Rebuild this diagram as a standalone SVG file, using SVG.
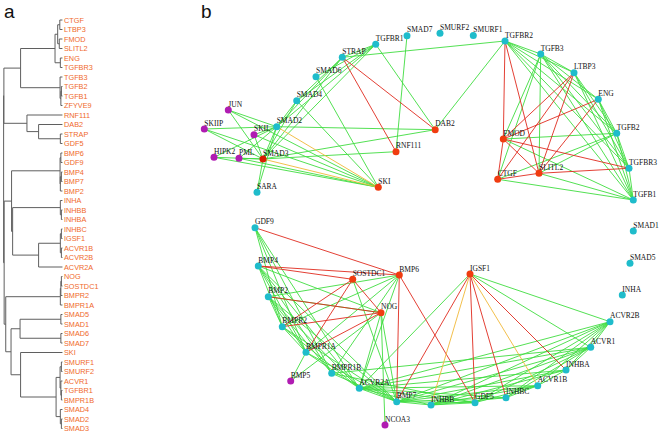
<svg xmlns="http://www.w3.org/2000/svg" width="661" height="435" viewBox="0 0 661 435">
<style>
.tree{fill:none;stroke:#5f5f5f;stroke-width:1}
.dl{font-family:"Liberation Sans",Arial,sans-serif;font-size:7.3px;fill:#f06a2c}
.pl{font-family:"Liberation Sans",Arial,sans-serif;font-size:19px;fill:#111}
.lb{font-family:"Liberation Serif","Times New Roman",serif;font-size:7.5px;fill:#111}
.g line{stroke:#3fdc3f;stroke-width:0.9}
.r line{stroke:#e02a1e;stroke-width:0.9}
.y line{stroke:#f0b838;stroke-width:0.9}
.c{fill:#1fbccb}
.o{fill:#f03c10}
.d{fill:#d81c00}
.m{fill:#b01cb2}
</style>
<rect width="661" height="435" fill="#fff"/>
<text class="pl" x="4" y="18">a</text>
<text class="pl" x="201" y="18">b</text>

<g id="dendrogram">
<g transform="translate(1.5,0) scale(0.53,1)">
<path class="tree" vector-effect="non-scaling-stroke" d="M115,20H110V29.5H115 M115,39H109V48.5H115 M110,24.75H106V43.75H109 M115,58H111V67.5H115 M106,34.25H101V62.75H111 M115,86.5H113V96H115 M113,91.25H112V105.5H115 M115,77H110.5V98.4H112 M101,48.5H36V87.7H110.5 M115,134H111V143.5H115 M115,124.5H70V138.75H111 M115,115H48V131.6H70 M36,68.1H4.5V123.3H48 M115,153H112V162.5H115 M115,172H113V181.5H115 M113,176.75H111V191H115 M112,157.75H110.5V183.9H111 M115,210H113V219.5H115 M115,200.5H111V214.75H113 M115,229H113V238.5H115 M115,248H113V257.5H115 M113,233.75H111V252.75H113 M111,243.25H70V267H115 M111,207.6H21V255.1H70 M110.5,170.8H19V231.4H21 M115,276.5H113V286H115 M113,281.25H112V295.5H115 M112,288.4H111V305H115 M115,314.5H112V324H115 M115,333.5H112V343H115 M112,319.25H35V338.25H112 M115,362H113V371.5H115 M115,390.5H113V400H115 M115,381H112V395.25H113 M113,366.75H110.5V388.1H112 M115,419H113V428.5H115 M115,409.5H111V423.75H113 M110.5,377.4H103V416.6H111 M115,352.5H36V397H103 M35,328.75H18V374.75H36 M111,296.7H8V351.75H18 M19,201.1H5V324.2H8 M4.5,95.7H4V262.7H5"/>
</g>
<g class="dl">
<text x="64" y="22.7">CTGF</text><text x="64" y="32.2">LTBP3</text><text x="64" y="41.7">FMOD</text><text x="64" y="51.2">SLITL2</text><text x="64" y="60.7">ENG</text><text x="64" y="70.2">TGFBR3</text><text x="64" y="79.7">TGFB3</text><text x="64" y="89.2">TGFB2</text><text x="64" y="98.7">TGFB1</text><text x="64" y="108.2">ZFYVE9</text><text x="64" y="117.7">RNF111</text><text x="64" y="127.2">DAB2</text><text x="64" y="136.7">STRAP</text><text x="64" y="146.2">GDF5</text><text x="64" y="155.7">BMP6</text><text x="64" y="165.2">GDF9</text><text x="64" y="174.7">BMP4</text><text x="64" y="184.2">BMP7</text><text x="64" y="193.7">BMP2</text><text x="64" y="203.2">INHA</text><text x="64" y="212.7">INHBB</text><text x="64" y="222.2">INHBA</text><text x="64" y="231.7">INHBC</text><text x="64" y="241.2">IGSF1</text><text x="64" y="250.7">ACVR1B</text><text x="64" y="260.2">ACVR2B</text><text x="64" y="269.7">ACVR2A</text><text x="64" y="279.2">NOG</text><text x="64" y="288.7">SOSTDC1</text><text x="64" y="298.2">BMPR2</text><text x="64" y="307.7">BMPR1A</text><text x="64" y="317.2">SMAD5</text><text x="64" y="326.7">SMAD1</text><text x="64" y="336.2">SMAD6</text><text x="64" y="345.7">SMAD7</text><text x="64" y="355.2">SKI</text><text x="64" y="364.7">SMURF1</text><text x="64" y="374.2">SMURF2</text><text x="64" y="383.7">ACVR1</text><text x="64" y="393.2">TGFBR1</text><text x="64" y="402.7">BMPR1B</text><text x="64" y="412.2">SMAD4</text><text x="64" y="421.7">SMAD2</text><text x="64" y="431.2">SMAD3</text>
</g>
</g>

<g id="connectors">
<g class="g">
<line x1="228.3" y1="110" x2="276.7" y2="126.7"/>
<line x1="228.3" y1="110" x2="263" y2="159"/>
<line x1="228.3" y1="110" x2="378.3" y2="187.3"/>
<line x1="204.3" y1="129" x2="276.7" y2="126.7"/>
<line x1="204.3" y1="129" x2="263" y2="159"/>
<line x1="204.3" y1="129" x2="378.3" y2="187.3"/>
<line x1="254" y1="134.7" x2="276.7" y2="126.7"/>
<line x1="254" y1="134.7" x2="263" y2="159"/>
<line x1="254" y1="134.7" x2="378.3" y2="187.3"/>
<line x1="214" y1="157.3" x2="263" y2="159"/>
<line x1="214" y1="157.3" x2="378.3" y2="187.3"/>
<line x1="214" y1="157.3" x2="276.7" y2="126.7"/>
<line x1="239" y1="158.3" x2="263" y2="159"/>
<line x1="239" y1="158.3" x2="378.3" y2="187.3"/>
<line x1="239" y1="158.3" x2="276.7" y2="126.7"/>
<line x1="276.7" y1="126.7" x2="263" y2="159"/>
<line x1="276.7" y1="126.7" x2="296.7" y2="100.7"/>
<line x1="263" y1="159" x2="296.7" y2="100.7"/>
<line x1="257" y1="192.3" x2="276.7" y2="126.7"/>
<line x1="257" y1="192.3" x2="263" y2="159"/>
<line x1="276.7" y1="126.7" x2="342.3" y2="57.3"/>
<line x1="263" y1="159" x2="342.3" y2="57.3"/>
<line x1="276.7" y1="126.7" x2="375.7" y2="44.3"/>
<line x1="263" y1="159" x2="375.7" y2="44.3"/>
<line x1="296.7" y1="100.7" x2="375.7" y2="44.3"/>
<line x1="296.7" y1="100.7" x2="342.3" y2="57.3"/>
<line x1="316" y1="76.7" x2="375.7" y2="44.3"/>
<line x1="342.3" y1="57.3" x2="375.7" y2="44.3"/>
<line x1="296.7" y1="100.7" x2="378.3" y2="187.3"/>
<line x1="316" y1="76.7" x2="378.3" y2="187.3"/>
<line x1="263" y1="159" x2="396" y2="151.7"/>
<line x1="276.7" y1="126.7" x2="435.2" y2="129.7"/>
<line x1="263" y1="159" x2="435.2" y2="129.7"/>
<line x1="375.7" y1="44.3" x2="435.2" y2="129.7"/>
<line x1="407" y1="35.7" x2="396" y2="151.7"/>
<line x1="342.3" y1="57.3" x2="505" y2="41"/>
<line x1="505" y1="41" x2="435.2" y2="129.7"/>
<line x1="505" y1="41" x2="540.7" y2="54"/>
<line x1="505" y1="41" x2="574" y2="72.7"/>
<line x1="505" y1="41" x2="598.3" y2="99.3"/>
<line x1="505" y1="41" x2="616.7" y2="133.3"/>
<line x1="505" y1="41" x2="629" y2="168.3"/>
<line x1="505" y1="41" x2="633.3" y2="200"/>
<line x1="540.7" y1="54" x2="574" y2="72.7"/>
<line x1="540.7" y1="54" x2="598.3" y2="99.3"/>
<line x1="540.7" y1="54" x2="616.7" y2="133.3"/>
<line x1="540.7" y1="54" x2="629" y2="168.3"/>
<line x1="540.7" y1="54" x2="633.3" y2="200"/>
<line x1="540.7" y1="54" x2="539" y2="173.3"/>
<line x1="540.7" y1="54" x2="503.3" y2="139"/>
<line x1="540.7" y1="54" x2="497.7" y2="179.3"/>
<line x1="574" y1="72.7" x2="616.7" y2="133.3"/>
<line x1="574" y1="72.7" x2="633.3" y2="200"/>
<line x1="574" y1="72.7" x2="629" y2="168.3"/>
<line x1="598.3" y1="99.3" x2="616.7" y2="133.3"/>
<line x1="598.3" y1="99.3" x2="633.3" y2="200"/>
<line x1="598.3" y1="99.3" x2="629" y2="168.3"/>
<line x1="616.7" y1="133.3" x2="629" y2="168.3"/>
<line x1="616.7" y1="133.3" x2="633.3" y2="200"/>
<line x1="616.7" y1="133.3" x2="503.3" y2="139"/>
<line x1="616.7" y1="133.3" x2="497.7" y2="179.3"/>
<line x1="616.7" y1="133.3" x2="539" y2="173.3"/>
<line x1="629" y1="168.3" x2="633.3" y2="200"/>
<line x1="633.3" y1="200" x2="497.7" y2="179.3"/>
<line x1="633.3" y1="200" x2="539" y2="173.3"/>
<line x1="633.3" y1="200" x2="503.3" y2="139"/>
<line x1="255" y1="227.7" x2="282.3" y2="326.7"/>
<line x1="255" y1="227.7" x2="306" y2="352.3"/>
<line x1="255" y1="227.7" x2="331.7" y2="373.3"/>
<line x1="255" y1="227.7" x2="359.3" y2="388.3"/>
<line x1="258.3" y1="266" x2="282.3" y2="326.7"/>
<line x1="258.3" y1="266" x2="306" y2="352.3"/>
<line x1="258.3" y1="266" x2="331.7" y2="373.3"/>
<line x1="258.3" y1="266" x2="359.3" y2="388.3"/>
<line x1="258.3" y1="266" x2="381" y2="312.7"/>
<line x1="258.3" y1="266" x2="396.7" y2="401.7"/>
<line x1="268.3" y1="296.7" x2="282.3" y2="326.7"/>
<line x1="268.3" y1="296.7" x2="306" y2="352.3"/>
<line x1="268.3" y1="296.7" x2="331.7" y2="373.3"/>
<line x1="268.3" y1="296.7" x2="359.3" y2="388.3"/>
<line x1="268.3" y1="296.7" x2="399.3" y2="275"/>
<line x1="268.3" y1="296.7" x2="396.7" y2="401.7"/>
<line x1="268.3" y1="296.7" x2="381" y2="312.7"/>
<line x1="282.3" y1="326.7" x2="399.3" y2="275"/>
<line x1="282.3" y1="326.7" x2="396.7" y2="401.7"/>
<line x1="282.3" y1="326.7" x2="306" y2="352.3"/>
<line x1="282.3" y1="326.7" x2="359.3" y2="388.3"/>
<line x1="306" y1="352.3" x2="399.3" y2="275"/>
<line x1="306" y1="352.3" x2="396.7" y2="401.7"/>
<line x1="306" y1="352.3" x2="359.3" y2="388.3"/>
<line x1="331.7" y1="373.3" x2="399.3" y2="275"/>
<line x1="331.7" y1="373.3" x2="396.7" y2="401.7"/>
<line x1="331.7" y1="373.3" x2="590.7" y2="347.3"/>
<line x1="331.7" y1="373.3" x2="475" y2="402.7"/>
<line x1="359.3" y1="388.3" x2="399.3" y2="275"/>
<line x1="359.3" y1="388.3" x2="396.7" y2="401.7"/>
<line x1="359.3" y1="388.3" x2="431" y2="405"/>
<line x1="359.3" y1="388.3" x2="475" y2="402.7"/>
<line x1="359.3" y1="388.3" x2="506" y2="397.7"/>
<line x1="359.3" y1="388.3" x2="566" y2="370"/>
<line x1="359.3" y1="388.3" x2="537.7" y2="385.7"/>
<line x1="359.3" y1="388.3" x2="590.7" y2="347.3"/>
<line x1="359.3" y1="388.3" x2="610" y2="321.7"/>
<line x1="352.7" y1="279.3" x2="396.7" y2="401.7"/>
<line x1="381" y1="312.7" x2="359.3" y2="388.3"/>
<line x1="381" y1="312.7" x2="396.7" y2="401.7"/>
<line x1="290.7" y1="381" x2="306" y2="352.3"/>
<line x1="290.7" y1="381" x2="381" y2="312.7"/>
<line x1="385" y1="425" x2="381" y2="312.7"/>
<line x1="610" y1="321.7" x2="431" y2="405"/>
<line x1="610" y1="321.7" x2="475" y2="402.7"/>
<line x1="610" y1="321.7" x2="506" y2="397.7"/>
<line x1="610" y1="321.7" x2="566" y2="370"/>
<line x1="610" y1="321.7" x2="396.7" y2="401.7"/>
<line x1="610" y1="321.7" x2="537.7" y2="385.7"/>
<line x1="610" y1="321.7" x2="590.7" y2="347.3"/>
<line x1="590.7" y1="347.3" x2="431" y2="405"/>
<line x1="590.7" y1="347.3" x2="475" y2="402.7"/>
<line x1="590.7" y1="347.3" x2="396.7" y2="401.7"/>
<line x1="590.7" y1="347.3" x2="506" y2="397.7"/>
<line x1="590.7" y1="347.3" x2="566" y2="370"/>
<line x1="566" y1="370" x2="431" y2="405"/>
<line x1="566" y1="370" x2="396.7" y2="401.7"/>
<line x1="566" y1="370" x2="537.7" y2="385.7"/>
<line x1="537.7" y1="385.7" x2="431" y2="405"/>
<line x1="537.7" y1="385.7" x2="475" y2="402.7"/>
<line x1="537.7" y1="385.7" x2="396.7" y2="401.7"/>
<line x1="537.7" y1="385.7" x2="506" y2="397.7"/>
<line x1="506" y1="397.7" x2="431" y2="405"/>
<line x1="506" y1="397.7" x2="396.7" y2="401.7"/>
<line x1="475" y1="402.7" x2="431" y2="405"/>
<line x1="475" y1="402.7" x2="396.7" y2="401.7"/>
<line x1="431" y1="405" x2="396.7" y2="401.7"/>
<line x1="470" y1="274" x2="610" y2="321.7"/>
<line x1="470" y1="274" x2="590.7" y2="347.3"/>
<line x1="470" y1="274" x2="359.3" y2="388.3"/>
</g>
<g class="r">
<line x1="342.3" y1="57.3" x2="435.2" y2="129.7"/>
<line x1="342.3" y1="57.3" x2="396" y2="151.7"/>
<line x1="505" y1="41" x2="503.3" y2="139"/>
<line x1="505" y1="41" x2="539" y2="173.3"/>
<line x1="574" y1="72.7" x2="503.3" y2="139"/>
<line x1="574" y1="72.7" x2="497.7" y2="179.3"/>
<line x1="574" y1="72.7" x2="539" y2="173.3"/>
<line x1="598.3" y1="99.3" x2="503.3" y2="139"/>
<line x1="598.3" y1="99.3" x2="539" y2="173.3"/>
<line x1="503.3" y1="139" x2="629" y2="168.3"/>
<line x1="503.3" y1="139" x2="539" y2="173.3"/>
<line x1="503.3" y1="139" x2="497.7" y2="179.3"/>
<line x1="497.7" y1="179.3" x2="539" y2="173.3"/>
<line x1="539" y1="173.3" x2="629" y2="168.3"/>
<line x1="255" y1="227.7" x2="399.3" y2="275"/>
<line x1="258.3" y1="266" x2="352.7" y2="279.3"/>
<line x1="258.3" y1="266" x2="399.3" y2="275"/>
<line x1="352.7" y1="279.3" x2="282.3" y2="326.7"/>
<line x1="352.7" y1="279.3" x2="306" y2="352.3"/>
<line x1="352.7" y1="279.3" x2="381" y2="312.7"/>
<line x1="381" y1="312.7" x2="282.3" y2="326.7"/>
<line x1="381" y1="312.7" x2="306" y2="352.3"/>
<line x1="381" y1="312.7" x2="268.3" y2="296.7"/>
<line x1="399.3" y1="275" x2="396.7" y2="401.7"/>
<line x1="399.3" y1="275" x2="475" y2="402.7"/>
<line x1="470" y1="274" x2="396.7" y2="401.7"/>
<line x1="470" y1="274" x2="475" y2="402.7"/>
<line x1="470" y1="274" x2="506" y2="397.7"/>
<line x1="470" y1="274" x2="566" y2="370"/>
</g>
<g class="y">
<line x1="276.7" y1="126.7" x2="378.3" y2="187.3"/>
<line x1="263" y1="159" x2="378.3" y2="187.3"/>
<line x1="470" y1="274" x2="431" y2="405"/>
<line x1="470" y1="274" x2="537.7" y2="385.7"/>
</g>
</g>

<g id="n-SMAD7"><circle class="c" cx="407" cy="35.7" r="3.5"/><text class="lb" x="407" y="32.4">SMAD7</text></g>
<g id="n-SMURF2"><circle class="c" cx="440" cy="33.3" r="3.5"/><text class="lb" x="440" y="30">SMURF2</text></g>
<g id="n-SMURF1"><circle class="c" cx="473.3" cy="35.5" r="3.5"/><text class="lb" x="473.3" y="32.2">SMURF1</text></g>
<g id="n-TGFBR1"><circle class="c" cx="375.7" cy="44.3" r="3.5"/><text class="lb" x="375.7" y="41">TGFBR1</text></g>
<g id="n-STRAP"><circle class="c" cx="342.3" cy="57.3" r="3.5"/><text class="lb" x="342.3" y="54">STRAP</text></g>
<g id="n-SMAD6"><circle class="c" cx="316" cy="76.7" r="3.5"/><text class="lb" x="316" y="73.4">SMAD6</text></g>
<g id="n-SMAD4"><circle class="c" cx="296.7" cy="100.7" r="3.5"/><text class="lb" x="296.7" y="97.4">SMAD4</text></g>
<g id="n-JUN"><circle class="m" cx="228.3" cy="110" r="3.5"/><text class="lb" x="228.3" y="106.7">JUN</text></g>
<g id="n-SKIIP"><circle class="m" cx="204.3" cy="129" r="3.5"/><text class="lb" x="204.3" y="125.7">SKIIP</text></g>
<g id="n-SMAD2"><circle class="c" cx="276.7" cy="126.7" r="3.5"/><text class="lb" x="276.7" y="123.4">SMAD2</text></g>
<g id="n-SKIL"><circle class="m" cx="254" cy="134.7" r="3.5"/><text class="lb" x="254" y="131.4">SKIL</text></g>
<g id="n-HIPK2"><circle class="m" cx="214" cy="157.3" r="3.5"/><text class="lb" x="214" y="154">HIPK2</text></g>
<g id="n-PML"><circle class="m" cx="239" cy="158.3" r="3.5"/><text class="lb" x="239" y="155">PML</text></g>
<g id="n-SMAD3"><circle class="d" cx="263" cy="159" r="3.5"/><text class="lb" x="263" y="155.7">SMAD3</text></g>
<g id="n-SARA"><circle class="c" cx="257" cy="192.3" r="3.5"/><text class="lb" x="257" y="189">SARA</text></g>
<g id="n-RNF111"><circle class="o" cx="396" cy="151.7" r="3.5"/><text class="lb" x="396" y="148.4">RNF111</text></g>
<g id="n-SKI"><circle class="o" cx="378.3" cy="187.3" r="3.5"/><text class="lb" x="378.3" y="184">SKI</text></g>
<g id="n-DAB2"><circle class="o" cx="435.2" cy="129.7" r="3.5"/><text class="lb" x="435.2" y="126.4">DAB2</text></g>
<g id="n-TGFBR2"><circle class="c" cx="505" cy="41" r="3.5"/><text class="lb" x="505" y="37.7">TGFBR2</text></g>
<g id="n-TGFB3"><circle class="c" cx="540.7" cy="54" r="3.5"/><text class="lb" x="540.7" y="50.7">TGFB3</text></g>
<g id="n-LTBP3"><circle class="c" cx="574" cy="72.7" r="3.5"/><text class="lb" x="574" y="69.4">LTBP3</text></g>
<g id="n-ENG"><circle class="c" cx="598.3" cy="99.3" r="3.5"/><text class="lb" x="598.3" y="96">ENG</text></g>
<g id="n-TGFB2"><circle class="c" cx="616.7" cy="133.3" r="3.5"/><text class="lb" x="616.7" y="130">TGFB2</text></g>
<g id="n-TGFBR3"><circle class="c" cx="629" cy="168.3" r="3.5"/><text class="lb" x="629" y="165">TGFBR3</text></g>
<g id="n-TGFB1"><circle class="c" cx="633.3" cy="200" r="3.5"/><text class="lb" x="633.3" y="196.7">TGFB1</text></g>
<g id="n-SMAD1"><circle class="c" cx="633.3" cy="231" r="3.5"/><text class="lb" x="633.3" y="227.7">SMAD1</text></g>
<g id="n-FMOD"><circle class="o" cx="503.3" cy="139" r="3.5"/><text class="lb" x="503.3" y="135.7">FMOD</text></g>
<g id="n-SLITL2"><circle class="o" cx="539" cy="173.3" r="3.5"/><text class="lb" x="539" y="170">SLITL2</text></g>
<g id="n-CTGF"><circle class="o" cx="497.7" cy="179.3" r="3.5"/><text class="lb" x="497.7" y="176">CTGF</text></g>
<g id="n-GDF9"><circle class="c" cx="255" cy="227.7" r="3.5"/><text class="lb" x="255" y="224.4">GDF9</text></g>
<g id="n-BMP4"><circle class="c" cx="258.3" cy="266" r="3.5"/><text class="lb" x="258.3" y="262.7">BMP4</text></g>
<g id="n-SOSTDC1"><circle class="o" cx="352.7" cy="279.3" r="3.5"/><text class="lb" x="352.7" y="276">SOSTDC1</text></g>
<g id="n-BMP6"><circle class="o" cx="399.3" cy="275" r="3.5"/><text class="lb" x="399.3" y="271.7">BMP6</text></g>
<g id="n-BMP2"><circle class="c" cx="268.3" cy="296.7" r="3.5"/><text class="lb" x="268.3" y="293.4">BMP2</text></g>
<g id="n-NOG"><circle class="o" cx="381" cy="312.7" r="3.5"/><text class="lb" x="381" y="309.4">NOG</text></g>
<g id="n-BMPR2"><circle class="c" cx="282.3" cy="326.7" r="3.5"/><text class="lb" x="282.3" y="323.4">BMPR2</text></g>
<g id="n-BMPR1A"><circle class="c" cx="306" cy="352.3" r="3.5"/><text class="lb" x="306" y="349">BMPR1A</text></g>
<g id="n-BMP5"><circle class="m" cx="290.7" cy="381" r="3.5"/><text class="lb" x="290.7" y="377.7">BMP5</text></g>
<g id="n-BMPR1B"><circle class="c" cx="331.7" cy="373.3" r="3.5"/><text class="lb" x="331.7" y="370">BMPR1B</text></g>
<g id="n-ACVR2A"><circle class="c" cx="359.3" cy="388.3" r="3.5"/><text class="lb" x="359.3" y="385">ACVR2A</text></g>
<g id="n-BMP7"><circle class="c" cx="396.7" cy="401.7" r="3.5"/><text class="lb" x="396.7" y="398.4">BMP7</text></g>
<g id="n-NCOA3"><circle class="m" cx="385" cy="425" r="3.5"/><text class="lb" x="385" y="421.7">NCOA3</text></g>
<g id="n-INHBB"><circle class="c" cx="431" cy="405" r="3.5"/><text class="lb" x="431" y="401.7">INHBB</text></g>
<g id="n-GDF5"><circle class="c" cx="475" cy="402.7" r="3.5"/><text class="lb" x="475" y="399.4">GDF5</text></g>
<g id="n-INHBC"><circle class="c" cx="506" cy="397.7" r="3.5"/><text class="lb" x="506" y="394.4">INHBC</text></g>
<g id="n-ACVR1B"><circle class="c" cx="537.7" cy="385.7" r="3.5"/><text class="lb" x="537.7" y="382.4">ACVR1B</text></g>
<g id="n-INHBA"><circle class="c" cx="566" cy="370" r="3.5"/><text class="lb" x="566" y="366.7">INHBA</text></g>
<g id="n-ACVR1"><circle class="c" cx="590.7" cy="347.3" r="3.5"/><text class="lb" x="590.7" y="344">ACVR1</text></g>
<g id="n-ACVR2B"><circle class="c" cx="610" cy="321.7" r="3.5"/><text class="lb" x="610" y="318.4">ACVR2B</text></g>
<g id="n-INHA"><circle class="c" cx="622.3" cy="295" r="3.5"/><text class="lb" x="622.3" y="291.7">INHA</text></g>
<g id="n-SMAD5"><circle class="c" cx="630" cy="263.3" r="3.5"/><text class="lb" x="630" y="260">SMAD5</text></g>
<g id="n-IGSF1"><circle class="o" cx="470" cy="274" r="3.5"/><text class="lb" x="470" y="270.7">IGSF1</text></g>
</svg>
